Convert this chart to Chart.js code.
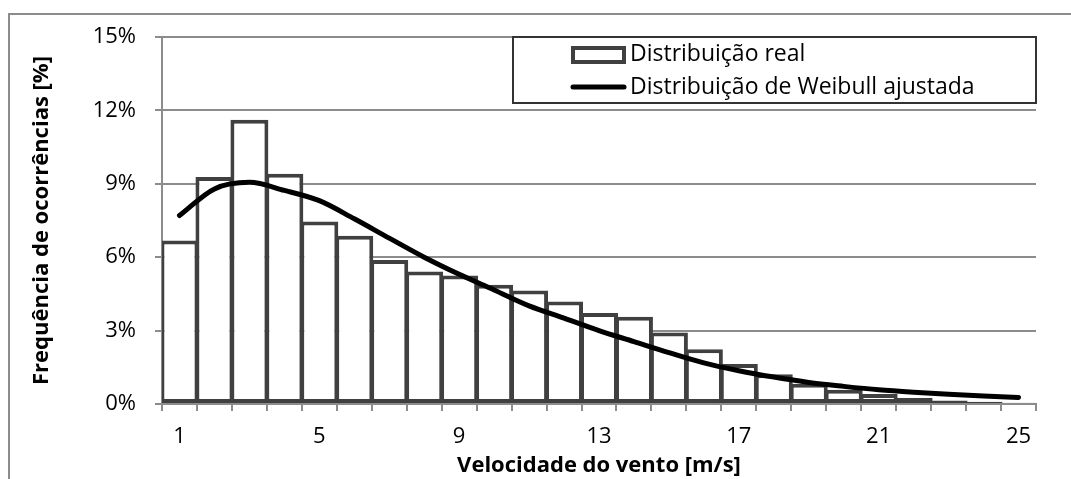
<!DOCTYPE html>
<html>
<head>
<meta charset="utf-8">
<script src="https://cdn.jsdelivr.net/npm/chart.js@4"></script>
<style>
  body { margin: 0; background: #fff; }
  #wrap { position: relative; width: 1071px; height: 479px; }
  #frame { position: absolute; left: 8px; top: 13px; right: 0; bottom: 0;
           border-left: 2px solid #8c8c8c; border-top: 2px solid #8c8c8c; }
  #canvas { position: absolute; left: 0; top: 0; }
</style>
</head>
<body>
<div id="wrap">
  <div id="frame"></div>
  <canvas id="canvas" width="1071" height="479"></canvas>
</div>
<script>
const windSpeeds = [1, 2, 3, 4, 5, 6, 7, 8, 9, 10, 11, 12, 13, 14, 15, 16, 17, 18, 19, 20, 21, 22, 23, 24, 25];
const realDist = [6.68, 9.28, 11.62, 9.41, 7.46, 6.88, 5.89, 5.42, 5.25, 4.87, 4.64, 4.19, 3.72, 3.57, 2.92, 2.24, 1.63, 1.22, 0.83, 0.58, 0.41, 0.25, 0.14, 0.09, 0.05];
const weibullDist = [7.7, 8.79, 9.06, 8.73, 8.31, 7.57, 6.78, 6.0, 5.3, 4.66, 4.01, 3.51, 3.0, 2.55, 2.1, 1.68, 1.36, 1.1, 0.88, 0.72, 0.58, 0.48, 0.4, 0.33, 0.27];
const shownXLabels = [1, 5, 9, 13, 17, 21, 25];
const yTicks = [0, 3, 6, 9, 12, 15];

const font = "'Open Sans'";
const gridGray = '#8c8c8c';

// legend drawn by hand, boxed in the top right corner of the plot
const boxLegend = {
  id: 'boxLegend',
  afterDraw(chart) {
    const c = chart.ctx;
    const a = chart.chartArea;
    const x0 = a.left + 351, y0 = a.top, w = a.right - x0, h = 66;
    const barDs = chart.data.datasets.find(d => d.type !== 'line');
    const lineDs = chart.data.datasets.find(d => d.type === 'line');
    c.save();
    c.fillStyle = '#fff';
    c.fillRect(x0, y0, w, h);
    c.strokeStyle = '#333';
    c.lineWidth = 2;
    c.strokeRect(x0, y0, w, h);

    // bar symbol
    c.strokeStyle = '#404040';
    c.lineWidth = 4;
    c.strokeRect(x0 + 60, y0 + 11, 51, 14);
    // line symbol
    c.strokeStyle = '#000';
    c.lineWidth = 5;
    c.lineCap = 'round';
    c.beginPath();
    c.moveTo(x0 + 60, y0 + 50);
    c.lineTo(x0 + 111, y0 + 50);
    c.stroke();

    c.fillStyle = '#000';
    c.font = "23px " + font;
    c.textBaseline = 'middle';
    c.fillText(barDs.label, x0 + 117, y0 + 17);
    c.fillText(lineDs.label, x0 + 117, y0 + 50);
    c.restore();
  }
};

new Chart(document.getElementById('canvas'), {
  type: 'bar',
  data: {
    labels: windSpeeds,
    datasets: [{
      type: 'line',
      label: 'Distribuição de Weibull ajustada',
      data: weibullDist,
      borderColor: '#000',
      borderWidth: 5,
      borderCapStyle: 'round',
      pointRadius: 0,
      cubicInterpolationMode: 'monotone',
      order: 0
    }, {
      label: 'Distribuição real',
      data: realDist,
      backgroundColor: '#fff',
      borderColor: '#404040',
      borderWidth: 4,
      borderSkipped: false,
      barPercentage: 1.086,
      categoryPercentage: 1,
      order: 1
    }]
  },
  options: {
    responsive: false,
    animation: false,
    layout: { padding: { left: 0, top: 37, right: 35, bottom: 0 } },
    plugins: { legend: { display: false }, tooltip: { enabled: false } },
    scales: {
      x: {
        afterFit(s) { s.height = 75; },
        grid: { offset: true, drawOnChartArea: false, tickLength: 7, color: gridGray, lineWidth: 2 },
        border: { color: gridGray, width: 2 },
        ticks: {
          autoSkip: false, maxRotation: 0, padding: 13,
          color: '#000', font: { family: font, size: 22 },
          callback: function(v, i) {
            const lab = windSpeeds[i];
            return shownXLabels.includes(lab) ? String(lab) : '';
          }
        },
        title: {
          display: true, text: 'Velocidade do vento [m/s]', color: '#000',
          font: { family: font, size: 22, weight: 'bold' },
          padding: { top: 0, bottom: 0 }
        }
      },
      y: {
        min: 0, max: 15,
        afterFit(s) { s.width = 162; },
        afterBuildTicks(s) { s.ticks = yTicks.map(v => ({ value: v })); },
        grid: { tickLength: 7, color: gridGray, lineWidth: 2 },
        border: { color: gridGray, width: 2 },
        ticks: {
          padding: 19, color: '#000', font: { family: font, size: 22 },
          callback: v => v + '%'
        },
        title: {
          display: true, text: 'Frequência de ocorrências [%]', color: '#000',
          font: { family: font, size: 22, weight: 'bold' },
          padding: { top: 29, bottom: 0 }
        }
      }
    }
  },
  plugins: [boxLegend]
});
</script>
</body>
</html>
